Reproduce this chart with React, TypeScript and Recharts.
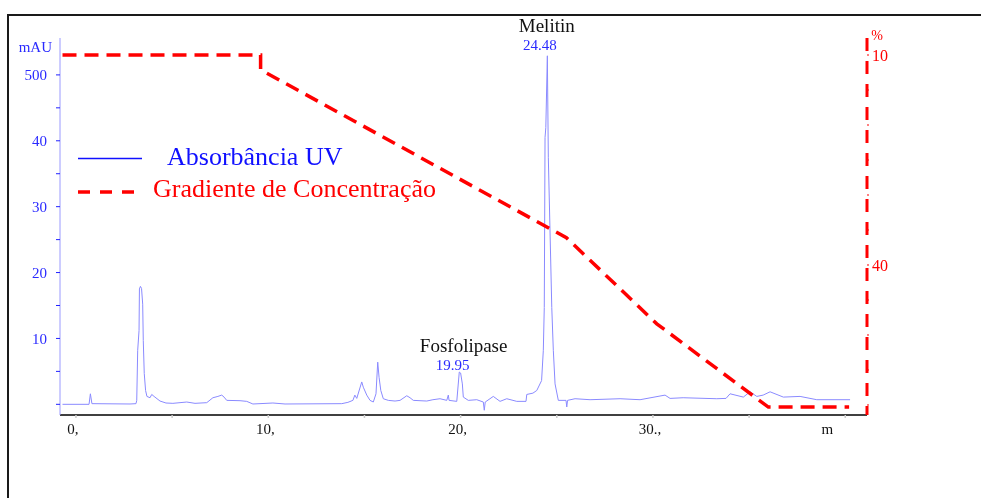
import { ComposedChart, Line, XAxis, YAxis, ReferenceDot, Label } from 'recharts';

// UV trace (time in min, absorbance in mAU)
const uvTime = [
  -0.7, 0.68, 0.75, 0.83, 2.81, 3.12, 3.16, 3.21, 3.28, 3.3, 3.35, 3.41, 3.47, 3.5, 3.55, 3.62, 3.69, 3.85,
  3.94, 4.06, 4.37, 4.68, 5.04, 5.76, 6.19, 6.8, 7.12, 7.38, 7.58, 7.7, 7.84, 8.53, 8.88, 9.2, 10.24, 10.87,
  13.82, 14.14, 14.4, 14.5, 14.6, 14.86, 14.94, 15.12, 15.29, 15.46, 15.6, 15.69, 15.76, 15.85, 15.98, 16.24,
  16.59, 16.85, 17.2, 17.37, 17.54, 18.24, 18.56, 18.93, 19.28, 19.36, 19.4, 19.8, 19.93, 20.0, 20.09, 20.14,
  20.4, 20.84, 21.18, 21.23, 21.28, 21.7, 22.05, 22.4, 22.92, 23.4, 23.44, 23.76, 23.96, 24.21, 24.3, 24.35,
  24.39, 24.43, 24.51, 24.56, 24.74, 24.82, 24.91, 25.08, 25.48, 25.52, 25.56, 25.95, 26.73, 28.29, 29.33,
  30.63, 30.89, 31.57, 33.32, 33.8, 34.01, 34.7, 35.05, 35.4, 35.73, 36.09, 36.78, 37.65, 38.52, 40.25,
];
const uvAbs = [
  0, 0, 1.6, 0.1, 0.05, 0.1, 0.6, 8.2, 11.2, 17.5, 17.9, 17.6, 15.2, 9.7, 4.7, 2.1, 1.2, 1.0,
  1.5, 1.2, 0.5, 0.2, 0.15, 0.35, 0.15, 0.25, 1.0, 1.2, 1.4, 1.1, 0.6, 0.55, 0.45, 0.05, 0.2, 0.05,
  0.1, 0.3, 0.6, 1.4, 0.9, 3.4, 2.6, 1.4, 0.6, 0.35, 1.6, 6.4, 4.1, 2.1, 0.85, 0.6,
  0.5, 0.6, 1.3, 1.0, 0.6, 0.5, 0.7, 0.85, 0.6, 1.4, 0.6, 0.45, 4.9, 4.75, 3.1, 1.1,
  0.6, 0.7, 0.35, -0.9, 0.35, 1.2, 0.45, 0.85, 0.45, 0.45, 1.5, 1.7, 2.1, 3.6, 8.2, 14.7,
  40.5, 42.0, 52.9, 37.5, 14.7, 8.2, 3.1, 0.6, 0.6, -0.4, 0.6, 0.85, 0.7, 0.85, 0.7,
  1.4, 0.9, 1.0, 0.85, 0.9, 1.6, 1.1, 1.9, 1.2, 1.4, 1.9, 1.1, 1.2, 0.7, 0.7,
];

// concentration gradient (%)
const gradTime = [-0.7, 9.6, 9.6, 25.5, 30.2, 36.0, 40.2];
const gradPct = [10, 10, 12.1, 36.1, 48.4, 60.3, 60.3];

const timeTicks = [0, 5, 10, 15, 20, 25, 30, 35, 40];
const timeTickLabels = ['0,', '', '10,', '', '20,', '', '30.,', '', 'm'];
const absTicks = [0, 5, 10, 15, 20, 25, 30, 35, 40, 45, 50];
const absTickLabels = ['', '', '10', '', '20', '', '30', '', '40', '', '500'];
const pctTicks = [10, 15, 20, 25, 30, 35, 40, 45, 50, 55, 60];
const pctTickLabels = ['10', '', '', '', '', '', '40', '', '', '', ''];

const peaks = [
  { name: 'Melitin', time: 24.48, abs: 52.9 },
  { name: 'Fosfolipase', time: 19.95, abs: 4.9 },
];

const uvData = uvTime.map((t, i) => ({ t, v: uvAbs[i] }));
const gradData = gradTime.map((t, i) => ({ t, v: gradPct[i] }));

const FONT = '"Liberation Serif", "Times New Roman", serif';
const BLUE = '#2a2aff';
const RED = '#ff0000';

const TimeTick = (props: any) => {
  const { x, y, payload } = props;
  const label = timeTickLabels[timeTicks.indexOf(payload.value)] ?? '';
  return (
    <text x={x + (label === 'm' ? -18 : -3)} y={y} dy="0.71em" textAnchor="middle"
      fontFamily={FONT} fontSize={15} fill="#111">
      {label}
    </text>
  );
};

export default function App() {
  return (
    <div style={{ position: 'relative', width: 965, height: 482 }}>
      <div style={{
        position: 'fixed', top: 14, left: 7, width: 2000, height: 1000,
        borderTop: '2px solid #1a1a1a', borderLeft: '2px solid #1a1a1a', pointerEvents: 'none',
      }} />
      <ComposedChart width={965} height={482} margin={{ top: 30, right: 46, bottom: 45, left: 0 }}>
        <XAxis
          dataKey="t"
          type="number"
          domain={[-0.83, 41.13]}
          allowDataOverflow
          ticks={timeTicks}
          interval={0}
          stroke="#000"
          strokeWidth={1.5}
          tickLine={{ stroke: '#ccc' }}
          tickSize={3}
          tickMargin={5}
          height={30}
          tick={<TimeTick />}
        />
        <YAxis
          yAxisId="abs"
          type="number"
          domain={[-1.62, 55.6]}
          allowDataOverflow
          ticks={absTicks}
          interval={0}
          width={52}
          axisLine={{ stroke: '#9a9aff' }}
          tickLine={{ stroke: '#2020ff' }}
          tickSize={4}
          tickMargin={9}
          tickFormatter={(v: number) => absTickLabels[absTicks.indexOf(v)] ?? ''}
          tick={{ fill: BLUE, fontSize: 15, fontFamily: FONT }}
        />
        <YAxis
          yAxisId="pct"
          orientation="right"
          type="number"
          reversed
          domain={[7.57, 61.43]}
          allowDataOverflow
          ticks={pctTicks}
          interval={0}
          width={60}
          axisLine={{ stroke: RED, strokeWidth: 3, strokeDasharray: '13 10' }}
          tickLine={{ stroke: RED }}
          tickSize={2}
          tickMargin={3}
          tickFormatter={(v: number) => pctTickLabels[pctTicks.indexOf(v)] ?? ''}
          tick={{ fill: RED, fontSize: 16, fontFamily: FONT }}
        />
        <Line
          yAxisId="abs"
          data={uvData}
          dataKey="v"
          type="linear"
          stroke="#8a8aff"
          strokeWidth={1}
          dot={false}
          isAnimationActive={false}
        />
        <Line
          yAxisId="pct"
          data={gradData}
          dataKey="v"
          type="linear"
          stroke={RED}
          strokeWidth={3.5}
          strokeDasharray="14 8"
          dot={false}
          isAnimationActive={false}
        />
        {peaks.map((p) => (
          <ReferenceDot key={p.name} yAxisId="abs" x={p.time} y={p.abs} r={0} fill="none" stroke="none">
            <Label value={p.time.toFixed(2)} position="top" offset={p.abs > 40 ? 6 : 2} dx={-7}
              fill={BLUE} fontSize={15} fontFamily={FONT} />
            <Label value={p.name} position="top" offset={p.abs > 40 ? 24 : 20} dx={p.abs > 40 ? 0 : 4}
              fill="#111" fontSize={19} fontFamily={FONT} />
          </ReferenceDot>
        ))}
      </ComposedChart>
      <svg width={965} height={482} style={{ position: 'absolute', top: 0, left: 0, pointerEvents: 'none' }}>
        <text x={44} y={39} dy="0.35em" textAnchor="end" fontFamily={FONT} fontSize={15} fill={BLUE}>mAU</text>
        <text x={869} y={27} dy="0.35em" textAnchor="middle" fontFamily={FONT} fontSize={14} fill={RED}>%</text>
        <line x1={70} x2={134} y1={150.5} y2={150.5} stroke="#1010ff" strokeWidth={1.5} />
        <text x={159} y={157} fontFamily={FONT} fontSize={26} fill="#1010ff">Absorbância UV</text>
        <line x1={70} x2={127} y1={184} y2={184} stroke={RED} strokeWidth={3.5} strokeDasharray="12 10" />
        <text x={145} y={189} fontFamily={FONT} fontSize={26} fill={RED}>Gradiente de Concentração</text>
      </svg>
    </div>
  );
}
